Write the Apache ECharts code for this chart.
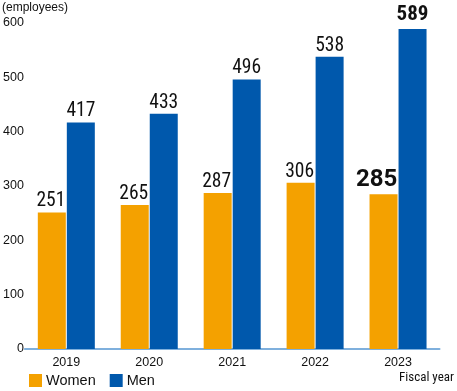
<!DOCTYPE html>
<html>
<head>
<meta charset="utf-8">
<script src="https://cdn.jsdelivr.net/npm/echarts@6/dist/echarts.min.js"></script>
<style>
html,body{margin:0;padding:0;background:#fff;}
#c{width:457px;height:391px;}
</style>
</head>
<body>
<div id="c"></div>
<script>
var years = ['2019', '2020', '2021', '2022', '2023'];
var women = [251, 265, 287, 306, 285];
var men = [417, 433, 496, 538, 589];
var yTicks = [0, 100, 200, 300, 400, 500, 600];
var seriesNames = ['Women', 'Men'];
var yUnit = '(employees)';
var xUnit = 'Fiscal year';

var COND = "'Roboto Condensed', sans-serif";
var REG = "'Liberation Sans', Arial, sans-serif";

function mkData(arr, lastStyle) {
  return arr.map(function (v, i) {
    if (i === arr.length - 1) {
      return { value: v, label: lastStyle };
    }
    return v;
  });
}

var chart = echarts.init(document.getElementById('c'), null, { renderer: 'canvas' });
chart.setOption({
  animation: false,
  backgroundColor: '#ffffff',
  grid: { left: 24, right: 17.5, top: 23, bottom: 42, containLabel: false },
  legend: {
    left: 24, top: 368,
    itemWidth: 13, itemHeight: 13, itemGap: 14,
    icon: 'rect',
    textStyle: { fontFamily: REG, fontSize: 14.5, color: '#111', padding: [0, 0, 0, -1] },
    data: seriesNames
  },
  xAxis: {
    type: 'category',
    data: years,
    axisLine: { show: true, lineStyle: { color: '#7FB0DD', width: 2 } },
    axisTick: { show: false },
    axisLabel: { fontFamily: REG, fontSize: 12.5, color: '#111', margin: 7 }
  },
  yAxis: {
    type: 'value',
    min: 0, max: 600, interval: 100,
    axisLine: { show: false },
    axisTick: { show: false },
    splitLine: { show: false },
    axisLabel: { fontFamily: REG, fontSize: 12.5, color: '#111', margin: 1 }
  },
  graphic: [
    { type: 'text', left: 2, top: 2, style: { text: yUnit, font: '12px ' + REG, fill: '#111' } },
    { type: 'text', left: 399, top: 371, style: { text: xUnit, font: '13px ' + COND, fill: '#111' } }
  ],
  series: [
    {
      name: seriesNames[0],
      type: 'bar',
      barWidth: 28,
      barGap: '3.6%',
      itemStyle: { color: '#F4A100' },
      label: { show: true, position: 'top', distance: 1, offset: [-1, 0], fontFamily: COND, fontSize: 19.5, color: '#111' },
      data: mkData(women, { fontFamily: "Roboto, sans-serif", fontSize: 24, fontWeight: 'bold', distance: 2, offset: [-7, 0] })
    },
    {
      name: seriesNames[1],
      type: 'bar',
      barWidth: 28,
      barGap: '3.6%',
      itemStyle: { color: '#0058AC' },
      label: { show: true, position: 'top', distance: 1, fontFamily: COND, fontSize: 19.5, color: '#111' },
      data: mkData(men, { fontFamily: COND, fontSize: 21, fontWeight: 'bold', distance: 4 })
    }
  ]
});
</script>
</body>
</html>
